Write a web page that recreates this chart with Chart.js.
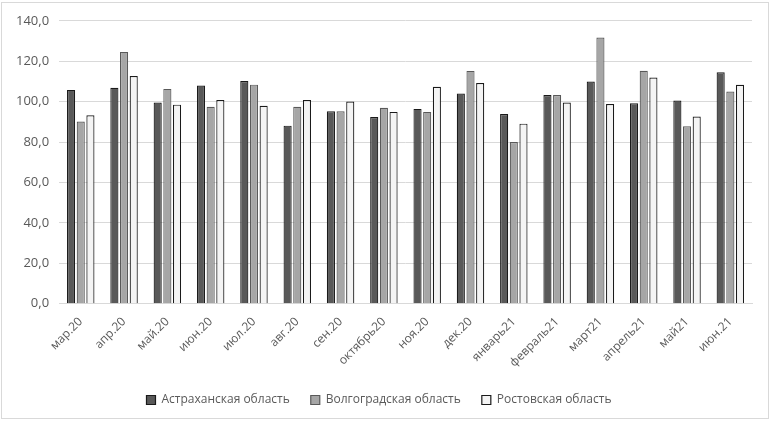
<!DOCTYPE html>
<html><head><meta charset="utf-8">
<script src="https://cdn.jsdelivr.net/npm/chart.js@4/dist/chart.umd.min.js"></script>
<style>
html,body{margin:0;padding:0;background:#fff;}
#wrap{position:absolute;left:1px;top:2px;width:768px;height:417px;border:1px solid #d9d9d9;box-sizing:border-box;}
canvas{display:block;}
</style></head><body>
<div id="wrap"><canvas id="c"></canvas></div>
<script>
const categories = ["мар.20","апр.20","май.20","июн.20","июл.20","авг.20","сен.20","октябрь20","ноя.20","дек.20","январь21","февраль21","март21","апрель21","май21","июн.21"];
const astrakhan = [105.8,106.8,99.5,108.0,110.2,88.1,95.2,92.4,96.4,104.0,93.9,103.3,109.9,99.2,100.5,114.5];
const volgograd = [90.1,124.6,106.3,97.4,108.4,97.4,95.2,96.9,94.9,115.2,80.0,103.3,131.7,115.3,87.8,105.0];
const rostov = [93.2,112.7,98.5,100.8,97.9,100.8,100.0,94.9,107.3,109.2,89.1,99.5,98.8,111.9,92.6,108.3];
const seriesNames = ["Астраханская область","Волгоградская область","Ростовская область"];
const yTicks = [0,20,40,60,80,100,120,140];

const FONT = "'Open Sans', sans-serif";
new Chart(document.getElementById('c'), {
  type: 'bar',
  data: {
    labels: categories,
    datasets: [
      {label: seriesNames[0], data: astrakhan, backgroundColor: '#595959', borderColor: '#1a1a1a', borderWidth: 1.2},
      {label: seriesNames[1], data: volgograd, backgroundColor: '#a6a6a6', borderColor: '#595959', borderWidth: 1.2},
      {label: seriesNames[2], data: rostov, backgroundColor: '#f4f4f4', borderColor: '#1a1a1a', borderWidth: 1.2}
    ]
  },
  options: {
    responsive: true,
    maintainAspectRatio: false,
    animation: false,
    categoryPercentage: 0.67,
    barPercentage: 0.84,
    layout: {padding: {left: 4, right: 16, top: 9, bottom: 2}},
    plugins: {
      legend: {
        position: 'bottom',
        labels: {boxWidth: 9, boxHeight: 9, color: '#595959', font: {family: FONT, size: 12}, padding: 21}
      },
      tooltip: {enabled: false}
    },
    scales: {
      x: {
        grid: {display: false},
        border: {color: '#d9d9d9'},
        ticks: {color: '#595959', font: {family: FONT, size: 12}, maxRotation: 45, minRotation: 45, autoSkip: false}
      },
      y: {
        min: 0, max: 140,
        afterBuildTicks: (ax) => { ax.ticks = yTicks.map(v => ({value: v})); },
        grid: {color: '#d9d9d9', drawTicks: false},
        border: {display: false},
        ticks: {color: '#595959', font: {family: FONT, size: 13}, padding: 10,
          callback: (v) => v.toFixed(1).replace('.', ',')}
      }
    }
  }
});
</script>
</body></html>
